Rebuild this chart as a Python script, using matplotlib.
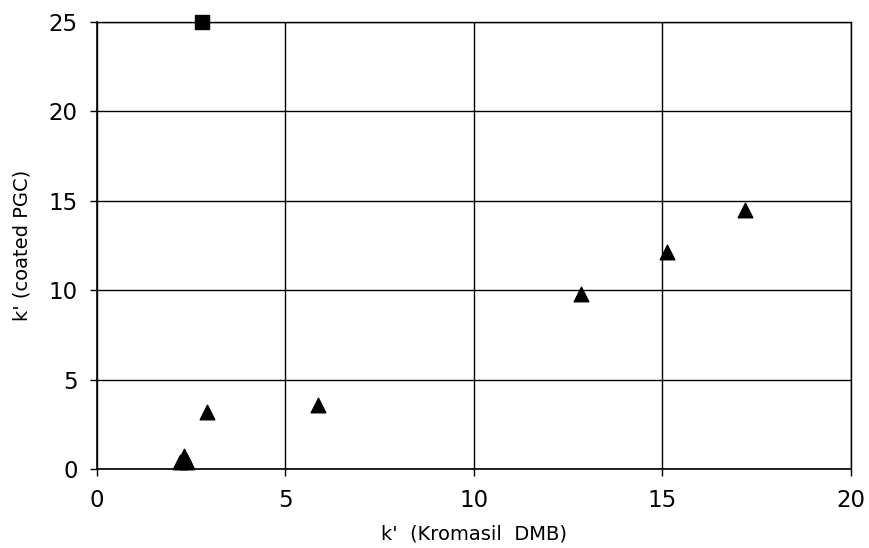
import matplotlib
matplotlib.use("Agg")
import matplotlib.pyplot as plt

tri_x = [2.20, 2.40, 2.30, 2.92, 5.86, 12.84, 15.12, 17.20]
tri_y = [0.40, 0.40, 0.75, 3.20, 3.60, 9.80, 12.15, 14.50]
sq_x = [2.78]
sq_y = [25.0]
xticks = [0, 5, 10, 15, 20]
yticks = [0, 5, 10, 15, 20, 25]

fig = plt.figure(figsize=(8.69, 5.48), dpi=100)
ax = fig.add_axes([0.1116, 0.144, 0.979 - 0.1116, 0.96 - 0.144])
ax.set_xlim(0, 20)
ax.set_ylim(0, 25)
ax.set_xticks(xticks)
ax.set_yticks(yticks)
ax.grid(True, color="black", linewidth=1.0)
ax.set_axisbelow(True)
for s in ["top", "right"]:
    ax.spines[s].set_linewidth(1.0)
for s in ["left", "bottom"]:
    ax.spines[s].set_linewidth(1.2)
ax.tick_params(direction="out", length=5, width=1, labelsize=16.5, pad=9)
ax.scatter(tri_x, tri_y, marker="^", s=110, color="black", zorder=3, clip_on=False)
ax.scatter(sq_x, sq_y, marker="s", s=100, color="black", zorder=3, clip_on=False)
ax.set_xlabel("k'  (Kromasil  DMB)", fontsize=14, labelpad=9)
ax.set_ylabel("k' (coated PGC)", fontsize=14, labelpad=12)
fig.savefig("out.png", dpi=100)
